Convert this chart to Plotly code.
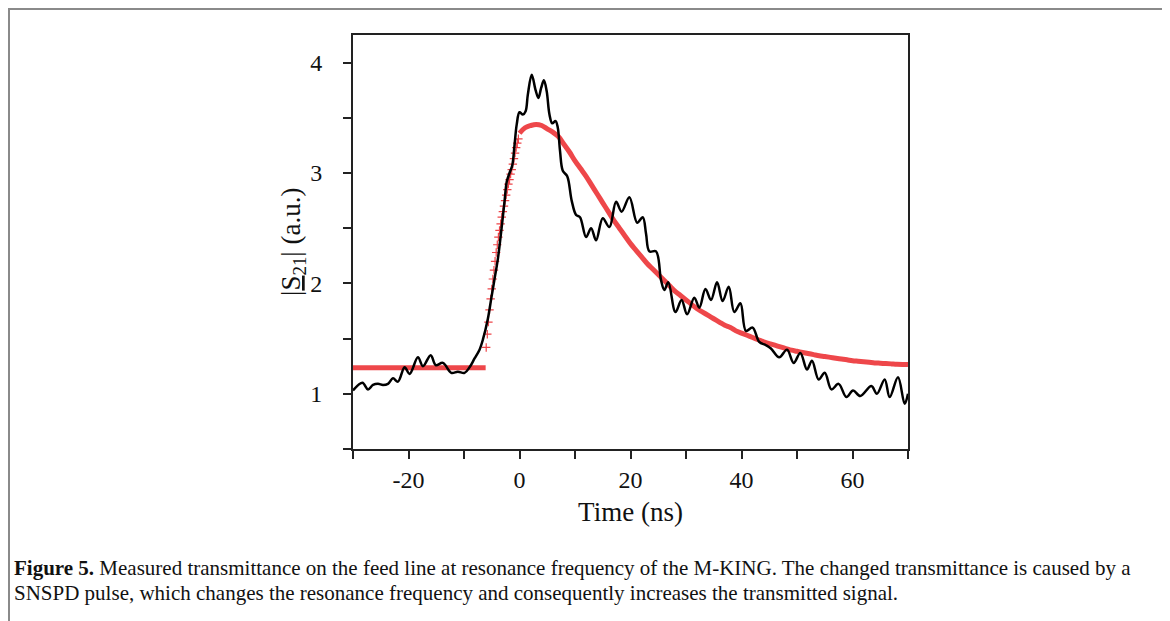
import plotly.graph_objects as go

# Measured |S21| (black line)
meas_t = [-30.0, -28.3, -27.3, -26.4, -25.5, -24.6, -23.7, -22.8, -21.9, -20.7, -19.8, -18.3, -17.4,
          -16.0, -15.1, -13.8, -12.3, -11.1, -9.9, -9.0, -8.1, -7.2, -6.6, -5.7, -5.1, -4.5, -3.9,
          -3.3, -2.7, -2.3, -1.8, -1.3, -0.9, -0.5, 0.0, 0.6, 1.1, 1.5, 2.2, 2.9, 3.4, 3.9, 4.4,
          4.9, 5.4, 5.9, 6.5, 6.9, 7.3, 7.8, 8.6, 9.4, 10.2, 10.9, 12.0, 12.9, 13.8, 15.0, 16.2,
          17.4, 18.4, 19.8, 21.2, 22.2, 22.8, 23.4, 24.6, 25.5, 26.1, 26.8, 28.1, 29.2, 30.2,
          31.5, 32.4, 33.5, 34.5, 35.6, 36.6, 37.7, 38.7, 39.8, 40.8, 42.0, 43.2, 44.4, 45.3,
          46.8, 48.2, 49.4, 50.6, 51.8, 52.7, 53.9, 55.0, 56.2, 57.5, 58.9, 60.1, 61.4, 63.4,
          64.4, 65.8, 66.7, 68.2, 69.4, 70.0]
meas_v = [1.03, 1.10, 1.04, 1.08, 1.09, 1.08, 1.09, 1.14, 1.11, 1.24, 1.18, 1.33, 1.25,
          1.35, 1.26, 1.28, 1.19, 1.20, 1.19, 1.24, 1.32, 1.40, 1.49, 1.68, 1.86, 2.04, 2.22,
          2.47, 2.74, 2.92, 3.00, 3.07, 3.25, 3.44, 3.55, 3.53, 3.56, 3.71, 3.89, 3.75, 3.68, 3.77, 3.84,
          3.74, 3.53, 3.45, 3.47, 3.41, 3.20, 3.02, 2.97, 2.75, 2.62, 2.60, 2.42, 2.50, 2.39, 2.59, 2.51,
          2.74, 2.65, 2.78, 2.55, 2.60, 2.45, 2.29, 2.29, 2.03, 1.94, 2.01, 1.74, 1.85, 1.72,
          1.87, 1.78, 1.95, 1.85, 2.01, 1.84, 1.97, 1.74, 1.82, 1.57, 1.60, 1.47, 1.44, 1.41,
          1.33, 1.40, 1.28, 1.37, 1.22, 1.30, 1.13, 1.19, 1.04, 1.09, 0.97, 1.03, 0.98, 1.07,
          1.00, 1.13, 0.97, 1.15, 0.91, 1.00]

# Fit (red crosses)
fit_flat_t = [-30, -28, -26, -24, -22, -20, -18, -16, -14, -12, -10, -8, -6.1]
fit_flat_v = [1.235, 1.235, 1.235, 1.235, 1.235, 1.235, 1.235, 1.235, 1.235, 1.235, 1.235, 1.235, 1.235]

fit_rise_t = [-6.0, -5.8, -5.6, -5.4, -5.2, -5.0, -4.8, -4.6, -4.4, -4.2, -4.0, -3.8, -3.6, -3.4,
              -3.2, -3.0, -2.8, -2.6, -2.4, -2.2, -2.0, -1.8, -1.6, -1.4, -1.2, -1.0, -0.8, -0.6,
              -0.4, -0.2]
fit_rise_v = [1.42, 1.54, 1.65, 1.76, 1.86, 1.95, 2.04, 2.12, 2.20, 2.28, 2.35, 2.42, 2.48, 2.54,
              2.60, 2.65, 2.70, 2.75, 2.80, 2.85, 2.90, 2.94, 2.99, 3.03, 3.08, 3.13, 3.18, 3.23,
              3.27, 3.31]

fit_decay_t = [0, 1, 2, 3, 4, 5, 6, 7, 8, 9, 10, 11, 12, 13, 14, 15, 16, 17, 18, 19, 20, 21, 22,
               23, 24, 25, 26, 27, 28, 29, 30, 31, 32, 33, 34, 35, 36, 37, 38, 39, 40, 41, 42, 43,
               44, 45, 46, 47, 48, 49, 50, 51, 52, 53, 54, 55, 56, 57, 58, 59, 60, 61, 62, 63, 64,
               65, 66, 67, 68, 69, 70]
fit_decay_v = [3.36, 3.41, 3.43, 3.44, 3.43, 3.40, 3.37, 3.33, 3.26, 3.19, 3.11, 3.04, 2.97, 2.89,
               2.81, 2.73, 2.65, 2.57, 2.50, 2.43, 2.36, 2.30, 2.24, 2.18, 2.13, 2.08, 2.03, 1.98,
               1.93, 1.89, 1.85, 1.81, 1.77, 1.74, 1.71, 1.68, 1.65, 1.62, 1.60, 1.57, 1.55, 1.53,
               1.51, 1.49, 1.47, 1.455, 1.44, 1.425, 1.41, 1.395, 1.385, 1.375, 1.365, 1.355, 1.345,
               1.338, 1.33, 1.322, 1.315, 1.308, 1.30, 1.295, 1.29, 1.285, 1.28, 1.277, 1.274,
               1.271, 1.268, 1.266, 1.265]

x_tickvals = [-30, -20, -10, 0, 10, 20, 30, 40, 50, 60, 70]
x_ticktext = ["", "-20", "", "0", "", "20", "", "40", "", "60", ""]
y_tickvals = [0.5, 1, 1.5, 2, 2.5, 3, 3.5, 4]
y_ticktext = ["", "1", "", "2", "", "3", "", "4"]

FONT = "Liberation Serif"
RED = "rgba(234,30,34,0.82)"

# page offset (body margin) compensation: figure starts at page (8, 8)
OFF = 8
FIG_W, FIG_H = 1170 - OFF, 621 - OFF
PL, PR, PT, PB = 353 - OFF, 908 - OFF, 35 - OFF, 449 - OFF  # plot box in figure coords

fig = go.Figure()
fig.add_trace(go.Scatter(x=fit_flat_t, y=fit_flat_v, mode="lines",
                         line=dict(color=RED, width=5), hoverinfo="skip", showlegend=False))
fig.add_trace(go.Scatter(x=fit_rise_t, y=fit_rise_v, mode="markers",
                         marker=dict(symbol="cross-thin", size=6,
                                     line=dict(color="rgba(232,22,28,0.8)", width=1.2)),
                         showlegend=False))
fig.add_trace(go.Scatter(x=fit_decay_t, y=fit_decay_v, mode="lines",
                         line=dict(color=RED, width=5, shape="spline"), showlegend=False))
fig.add_trace(go.Scatter(x=meas_t, y=meas_v, mode="lines",
                         line=dict(color="black", width=2.5, shape="spline", smoothing=1.0),
                         showlegend=False))

axis_common = dict(showline=True, linecolor="#222", linewidth=2, mirror=True,
                   ticks="outside", ticklen=8, tickwidth=2, tickcolor="#222",
                   showgrid=False, zeroline=False,
                   tickfont=dict(family=FONT, size=24, color="#111"))
fig.update_xaxes(range=[-30, 70], tickmode="array", tickvals=x_tickvals, ticktext=x_ticktext,
                 title=dict(text="Time (ns)", font=dict(family=FONT, size=27, color="#111"), standoff=10),
                 **axis_common)
fig.update_yaxes(range=[0.5, 4.25], tickmode="array", tickvals=y_tickvals, ticktext=y_ticktext,
                 ticklabelstandoff=16, **axis_common)

W_PLOT = PR - PL
H_PLOT = PB - PT
def px_x(p):
    # p is a page x coordinate
    return (p - OFF - PL) / W_PLOT
def px_y(p):
    return (PB - (p - OFF)) / H_PLOT

# y-axis title
fig.add_annotation(
    xref="paper", yref="paper", x=px_x(293), y=px_y(242), xanchor="center", yanchor="middle",
    textangle=-90, showarrow=False,
    text="|<span style='text-decoration:underline'>S</span><sub>21</sub>| (a.u.)",
    font=dict(family=FONT, size=27, color="#111"))

cap_font = dict(family=FONT, size=21, color="#111")
fig.add_annotation(
    xref="paper", yref="paper", x=px_x(12), y=px_y(568), xanchor="left", yanchor="middle",
    align="left", showarrow=False,
    text=("<b>Figure 5.</b> Measured transmittance on the feed line at resonance frequency of the M-KING. "
          "The changed transmittance is caused by a"),
    font=cap_font)
fig.add_annotation(
    xref="paper", yref="paper", x=px_x(12), y=px_y(593), xanchor="left", yanchor="middle",
    align="left", showarrow=False,
    text="SNSPD pulse, which changes the resonance frequency and consequently increases the transmitted signal.",
    font=cap_font)

fig.add_shape(type="rect", xref="paper", yref="paper",
              x0=px_x(9), x1=px_x(1163), y0=px_y(640), y1=px_y(9),
              line=dict(color="#8a8a8a", width=2), layer="below")

fig.update_layout(width=FIG_W, height=FIG_H,
                  margin=dict(l=PL, r=FIG_W - PR, t=PT, b=FIG_H - PB),
                  paper_bgcolor="white", plot_bgcolor="white")
fig.write_html("out.html")
